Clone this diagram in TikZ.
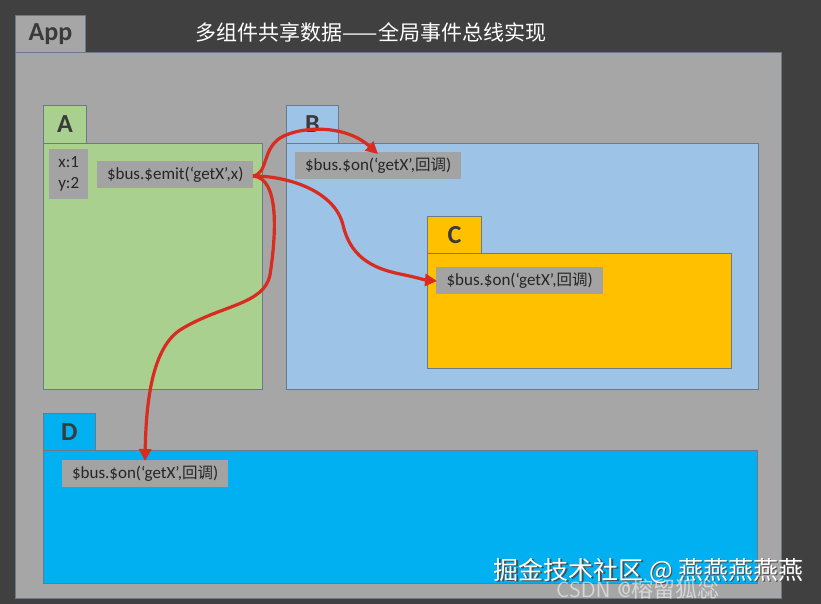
\documentclass[tikz,border=0pt]{standalone}
\usepackage{fontspec}
\setmainfont{Carlito}
\newfontfamily\cjk{Noto Sans CJK SC}
\newcommand\cjkcb{\cjk\fontsize{15.5}{15.5}\selectfont}
\usetikzlibrary{arrows.meta}
\definecolor{bgdark}{HTML}{404040}
\definecolor{appgray}{HTML}{A6A6A6}
\definecolor{lblgray}{HTML}{A3A3A3}
\definecolor{agreen}{HTML}{A9D08E}
\definecolor{bblue}{HTML}{9DC3E6}
\definecolor{corange}{HTML}{FFC000}
\definecolor{dblue}{HTML}{00B0F0}
\definecolor{arrowred}{HTML}{D92B1F}
\definecolor{txtdark}{HTML}{3A3A3A}
\definecolor{edge}{HTML}{6A7A8A}
\tikzset{
  panel/.style={draw=edge, line width=0.8pt, anchor=north west, inner sep=0pt},
  tabletter/.style={font=\fontsize{26}{26}\selectfont\bfseries, text=txtdark},
  lbl/.style={fill=lblgray, anchor=north west, inner sep=0pt, font=\fontsize{17}{17}\selectfont, text=black!85},
  bus/.style={draw=arrowred, line width=3.2pt, -{Triangle[length=12pt,width=12pt]}},
}
\begin{document}
\begin{tikzpicture}[x=1pt,y=-1pt]
\fill[bgdark] (0,0) rectangle (821,604);
\useasboundingbox (0,0) rectangle (821,604);
% App
\node[panel, fill=appgray, minimum width=70pt, minimum height=37pt] (apptab) at (15,15) {};
\node[tabletter] (applbl) at (apptab.center) {App};
\node[panel, fill=appgray, minimum width=766pt, minimum height=546pt] (app) at (15,52) {};
\node[font=\cjk\fontsize{21}{21}\selectfont, text=white] (title) at (371,32) {多组件共享数据——全局事件总线实现};
% A
\node[panel, fill=agreen, minimum width=43pt, minimum height=38pt] (atab) at (43,105) {};
\node[tabletter] (albl) at (atab.center) {A};
\node[panel, fill=agreen, minimum width=219pt, minimum height=246pt] (abody) at (43,143) {};
\node[lbl, minimum width=39pt, minimum height=50pt, align=center] (xy) at (49,149) {x:1\\[4pt]y:2};
\node[lbl, minimum width=156pt, minimum height=27pt] (emit) at (97,161) {\$bus.\$emit(‘getX’,x)};
% B
\node[panel, fill=bblue, minimum width=52pt, minimum height=38pt] (btab) at (286,105) {};
\node[tabletter] (blbl) at (btab.center) {B};
\node[panel, fill=bblue, minimum width=472pt, minimum height=246pt] (bbody) at (286,143) {};
\node[lbl, minimum width=166pt, minimum height=27pt] (bon) at (295,152) {\$bus.\$on(‘getX’,{\cjkcb 回调})};
% C
\node[panel, fill=corange, minimum width=54pt, minimum height=37pt] (ctab) at (427,216) {};
\node[tabletter] (clbl) at (ctab.center) {C};
\node[panel, fill=corange, minimum width=304pt, minimum height=115pt] (cbody) at (427,253) {};
\node[lbl, minimum width=167pt, minimum height=27pt] (con) at (436,267) {\$bus.\$on(‘getX’,{\cjkcb 回调})};
% D
\node[panel, fill=dblue, minimum width=52pt, minimum height=37pt] (dtab) at (43,413) {};
\node[tabletter] (dlbl) at (dtab.center) {D};
\node[panel, fill=dblue, minimum width=714pt, minimum height=133pt] (dbody) at (43,450) {};
\node[lbl, minimum width=166pt, minimum height=27pt] (don) at (62,460) {\$bus.\$on(‘getX’,{\cjkcb 回调})};
% arrow targets
\coordinate (src) at (253,176);
\coordinate (tob) at (378,154);
\coordinate (toc) at (437,281);
\coordinate (tod) at (145,461);
% arrows
\draw[bus] (src) .. controls (268,174) and (262,150) .. (280,138)
  .. controls (300,126) and (345,124) .. (tob);
\draw[bus] (src) .. controls (290,176) and (335,192) .. (343,225)
  .. controls (350,255) and (370,268) .. (400,274) .. controls (415,277) and (425,280) .. (toc);
\draw[bus] (src) .. controls (280,178) and (276,235) .. (270,275)
  .. controls (264,305) and (220,305) .. (180,330)
  .. controls (150,350) and (146,410) .. (tod);
% watermarks
\node[font=\cjk\fontsize{25}{25}\selectfont, text=black!70, anchor=west] (wm1s) at (491.5,572.5) {掘金技术社区 @ 燕燕燕燕燕};
\node[font=\cjk\fontsize{25}{25}\selectfont, text=white, anchor=west] (wm1) at (490,571) {掘金技术社区 @ 燕燕燕燕燕};
\node[font=\sffamily\fontsize{22}{22}\selectfont, text=white, opacity=0.55, anchor=west, inner sep=0pt] (wm2) at (556,589) {CSDN @{\cjk 榕留狐惢}};
\end{tikzpicture}
\end{document}
